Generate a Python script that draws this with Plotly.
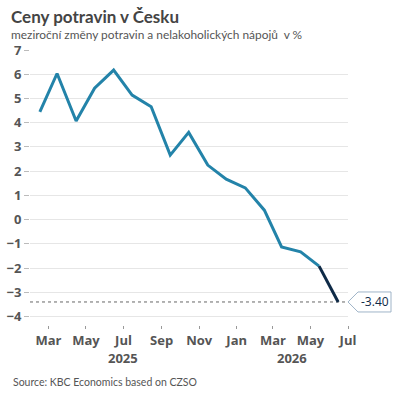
import plotly.graph_objects as go

dates = ["2025-02-15", "2025-03-15", "2025-04-15", "2025-05-15", "2025-06-15",
         "2025-07-15", "2025-08-15", "2025-09-15", "2025-10-15", "2025-11-15",
         "2025-12-15", "2026-01-15", "2026-02-15", "2026-03-15", "2026-04-15",
         "2026-05-15", "2026-06-15"]
values = [4.45, 6.03, 4.07, 5.42, 6.17, 5.14, 4.66, 2.66, 3.60, 2.25,
          1.67, 1.31, 0.39, -1.13, -1.33, -1.92, -3.40]

tick_vals = ["2025-03-01", "2025-05-01", "2025-07-01", "2025-09-01", "2025-11-01",
             "2026-01-01", "2026-03-01", "2026-05-01", "2026-07-01"]
tick_text = ["Mar", "May", "Jul", "Sep", "Nov", "Jan", "Mar", "May", "Jul"]
year_labels = ["2025", "2026"]
year_pos = ["2025-07-01", "2026-04-01"]
y_ticks = [-4, -3, -2, -1, 0, 1, 2, 3, 4, 5, 6, 7]

FONT = "Open Sans"
HFONT = "Lato"
MAIN = "#2383a9"
DARK = "#0e2a47"
TXT = "#555555"

fig = go.Figure()
fig.add_trace(go.Scatter(x=dates[:-1], y=values[:-1], mode="lines",
                         line=dict(color=MAIN, width=3), hoverinfo="skip"))
fig.add_trace(go.Scatter(x=dates[-2:], y=values[-2:], mode="lines",
                         line=dict(color=DARK, width=3), hoverinfo="skip"))

last = values[-1]
fig.add_shape(type="line", xref="paper", x0=0, x1=1, yref="y", y0=last, y1=last,
              line=dict(color="#666666", width=1, dash="3px,3px"), layer="below")
fig.add_shape(type="path", xref="paper", yref="y", xsizemode="pixel", ysizemode="pixel",
              xanchor=1, yanchor=last,
              path="M0,0 L10,10 L43,10 L43,-10 L10,-10 Z",
              line=dict(color="#9fb4c8", width=1), fillcolor="white", layer="above")
fig.add_annotation(xref="paper", x=1, yref="y", y=last, text=f"{last:.2f}",
                   showarrow=False, xanchor="center", xshift=27,
                   font=dict(family=FONT, size=12, color=DARK))

for yl, yp in zip(year_labels, year_pos):
    fig.add_annotation(x=yp, xref="x", yref="paper", y=0, yshift=-22, yanchor="top",
                       text=yl, showarrow=False,
                       font=dict(family=FONT, size=13, color=TXT, weight="bold"))

fig.add_annotation(xref="paper", yref="paper", x=-0.065, y=1, yshift=34,
                   xanchor="left", yanchor="middle",
                   text="<b>Ceny potravin v Česku</b>", showarrow=False,
                   font=dict(family=HFONT, size=17, color="#444444"))
fig.add_annotation(xref="paper", yref="paper", x=-0.065, y=1, yshift=16,
                   xanchor="left", yanchor="middle",
                   text="meziroční změny potravin a nelakoholických nápojů  v %", showarrow=False,
                   font=dict(family=HFONT, size=11.9, color=TXT))
fig.add_annotation(xref="paper", yref="paper", x=-0.06, y=0, yshift=-57,
                   xanchor="left", yanchor="middle",
                   text="Source: KBC Economics based on CZSO", showarrow=False,
                   font=dict(family=HFONT, size=10.5, color=TXT))

fig.update_layout(
    width=400, height=400,
    margin=dict(l=30, r=52, t=50, b=75),
    paper_bgcolor="white", plot_bgcolor="white",
    showlegend=False,
    xaxis=dict(range=["2025-01-30", "2026-07-01"], tickvals=tick_vals, ticktext=tick_text,
               showgrid=False, zeroline=False, showline=False, automargin=False,
               ticks="outside", ticklen=3, tickcolor="#999999",
               tickfont=dict(family=FONT, size=13, color=TXT, weight="bold")),
    yaxis=dict(range=[-4.35, 7.0], tickvals=y_ticks, showgrid=True, gridcolor="#e6e6e6",
               gridwidth=1, zeroline=False, showline=False, automargin=False,
               ticks="outside", ticklen=5, tickcolor="#bbbbbb",
               tickfont=dict(family=FONT, size=13, color=TXT, weight="bold")),
)

fig.write_html("out.html")
